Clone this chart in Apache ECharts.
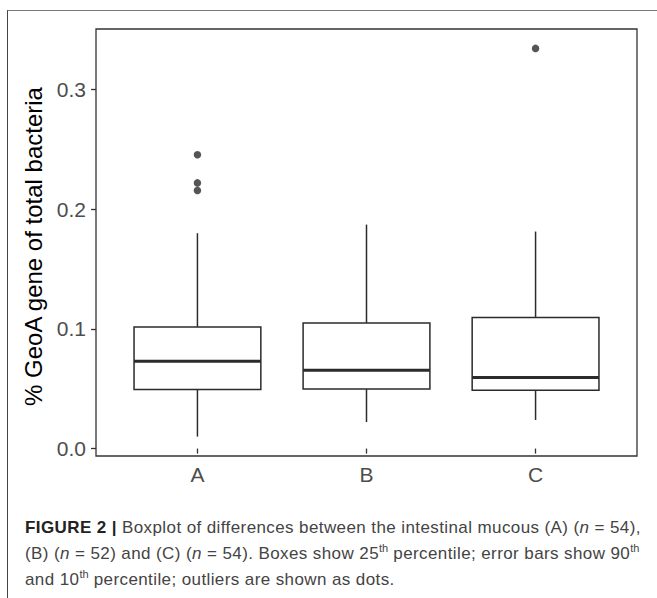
<!DOCTYPE html>
<html>
<head>
<meta charset="utf-8">
<script src="https://cdn.jsdelivr.net/npm/echarts@6/dist/echarts.min.js"></script>
<style>
  html, body { margin: 0; padding: 0; background: #fff; }
  #wrap { position: relative; width: 657px; height: 598px; overflow: hidden; background: #fff; }
  #chart { position: absolute; left: 0; top: 0; width: 657px; height: 598px; }
  #frame { position: absolute; left: 7px; top: 10px; width: 700px; height: 700px;
           border-top: 1px solid #777; border-left: 1.5px solid #444; pointer-events: none; }
  #caption { position: absolute; left: 25px; top: 515px; width: 630px;
             font-family: 'Liberation Sans', Arial, sans-serif; font-size: 17px; line-height: 26px;
             letter-spacing: 0.4px; color: #444; white-space: nowrap; }
  #caption b { color: #222; }
  #caption sup { font-size: 11px; line-height: 0; vertical-align: 7px; letter-spacing: 0; }
</style>
</head>
<body>
<div id="wrap">
  <div id="frame"></div>
  <div id="chart"></div>
  <div id="caption">
    <div><b>FIGURE 2 |</b> Boxplot of differences between the intestinal mucous (A) (<i>n</i> = 54),</div>
    <div>(B) (<i>n</i> = 52) and (C) (<i>n</i> = 54). Boxes show 25<sup>th</sup> percentile; error bars show 90<sup>th</sup></div>
    <div>and 10<sup>th</sup> percentile; outliers are shown as dots.</div>
  </div>
</div>
<script>
// ---- data ----
var categories  = ['A', 'B', 'C'];
var whiskerLow  = [0.0100, 0.0222, 0.0239];
var q1          = [0.0494, 0.0497, 0.0486];
var median      = [0.0730, 0.0653, 0.0594];
var q3          = [0.1016, 0.1049, 0.1094];
var whiskerHigh = [0.1798, 0.1870, 0.1812];
var outlierCategory = ['A', 'A', 'A', 'C'];
var outlierValue    = [0.2453, 0.2218, 0.2154, 0.3341];
var yTicks = [0, 0.1, 0.2, 0.3];
var yTitle = '% GeoA gene of total bacteria';

// ---- build ----
var xTicks = categories.map(function (c, i) { return i + 1; });
var boxData = categories.map(function (c, i) {
  return [i + 1, whiskerLow[i], q1[i], median[i], q3[i], whiskerHigh[i]];
});
var outlierData = outlierCategory.map(function (c, i) {
  return [categories.indexOf(c) + 1, outlierValue[i]];
});

var BOX_WIDTH = 0.75;
var INK = '#2b2b2b';

var chart = echarts.init(document.getElementById('chart'), null, { renderer: 'svg' });
chart.setOption({
  animation: false,
  backgroundColor: 'transparent',
  grid: {
    left: 96, top: 29, right: 20, bottom: 142,
    show: true, borderColor: '#333', borderWidth: 1.3, backgroundColor: 'transparent'
  },
  xAxis: {
    type: 'value', min: 0.4, max: 3.6,
    splitLine: { show: false },
    axisLine: { show: false },
    axisTick: { show: true, customValues: xTicks, length: 5, lineStyle: { color: '#333', width: 1.3 } },
    axisLabel: {
      customValues: xTicks, margin: 8, fontSize: 21, color: '#4D4D4D',
      fontFamily: 'Liberation Sans',
      formatter: function (v) { return categories[Math.round(v) - 1] || ''; }
    }
  },
  yAxis: {
    type: 'value', min: -0.0062, max: 0.3503,
    splitLine: { show: false },
    axisLine: { show: false },
    axisTick: { show: true, customValues: yTicks, length: 5, lineStyle: { color: '#333', width: 1.3 } },
    axisLabel: {
      customValues: yTicks, margin: 10, fontSize: 21, color: '#4D4D4D',
      fontFamily: 'Liberation Sans',
      formatter: function (v) { return v.toFixed(1); }
    },
    name: yTitle, nameLocation: 'middle', nameGap: 48,
    nameTextStyle: { fontSize: 24, color: '#000', fontFamily: 'Liberation Sans', padding: [0, 8, 0, 0] }
  },
  series: [
    {
      type: 'custom',
      data: boxData,
      encode: { x: 0, y: [1, 2, 3, 4, 5] },
      renderItem: function (params, api) {
        var x = api.value(0);
        var lo = api.coord([x, api.value(1)]);
        var b1 = api.coord([x, api.value(2)]);
        var md = api.coord([x, api.value(3)]);
        var b3 = api.coord([x, api.value(4)]);
        var hi = api.coord([x, api.value(5)]);
        var half = api.size([BOX_WIDTH, 0])[0] / 2;
        var thin = { stroke: INK, lineWidth: 1.5, fill: null };
        return {
          type: 'group',
          children: [
            { type: 'line', shape: { x1: hi[0], y1: hi[1], x2: b3[0], y2: b3[1] }, style: thin },
            { type: 'line', shape: { x1: lo[0], y1: lo[1], x2: b1[0], y2: b1[1] }, style: thin },
            { type: 'rect', shape: { x: b3[0] - half, y: b3[1], width: half * 2, height: b1[1] - b3[1] },
              style: { fill: '#fff', stroke: INK, lineWidth: 1.5 } },
            { type: 'line', shape: { x1: md[0] - half, y1: md[1], x2: md[0] + half, y2: md[1] },
              style: { stroke: INK, lineWidth: 3 } }
          ]
        };
      }
    },
    {
      type: 'scatter',
      data: outlierData,
      symbol: 'circle',
      symbolSize: 7.5,
      itemStyle: { color: INK }
    }
  ]
});
</script>
</body>
</html>
